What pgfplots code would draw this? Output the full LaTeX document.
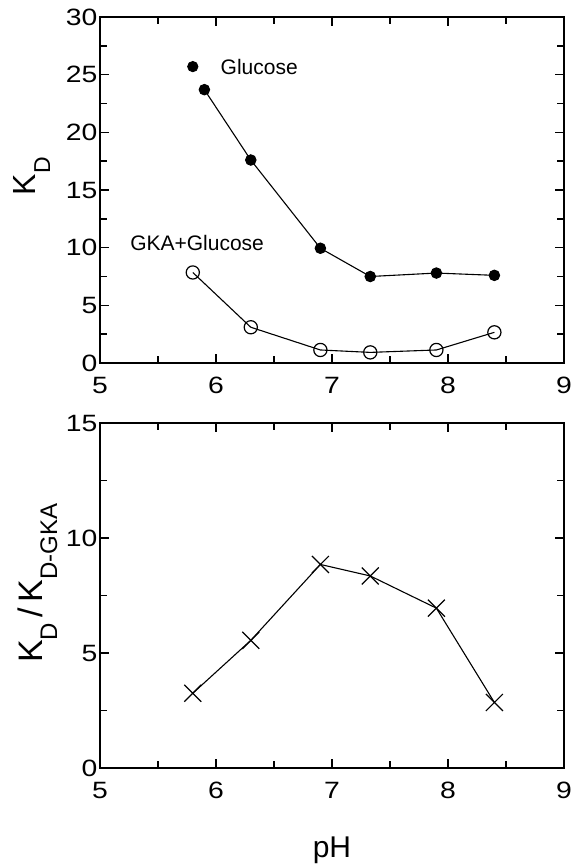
\documentclass[border=0pt]{standalone}
\usepackage{pgfplots}
\pgfplotsset{compat=1.18}
\usepackage{fontspec}
\setmainfont{Liberation Sans}
\newfontfamily\tickfont[FakeStretch=1.2]{Liberation Sans}

\pgfplotsset{
  myax/.style={
    scale only axis, width=232pt,
    xmin=5, xmax=9, xtick={5,6,7,8,9}, minor x tick num=1,
    minor y tick num=1,
    axis line style={line width=0.9pt},
    every tick/.style={line width=0.7pt, black},
    major tick length=4.5pt, minor tick length=3.5pt,
    tick align=inside,
    /pgf/number format/assume math mode=true,
    tick label style={font=\tickfont\fontsize{11.8}{13}\selectfont},
    xticklabel style={yshift=-3.4pt},
    yticklabel style={xshift=2.2pt},
  }
}

\begin{document}
\begin{tikzpicture}
\useasboundingbox (-50pt,-250.5pt) rectangle (236pt,181.5pt);

% top panel
\begin{axis}[myax, at={(0,0)}, height=173pt,
  ymin=0, ymax=30, ytick={0,5,10,15,20,25,30},
  ylabel={K\raisebox{-7.5pt}{\fontsize{11.5}{13}\selectfont D}},
  ylabel style={font=\fontsize{16}{18}\selectfont, at={(axis description cs:-0.14,0.54)}, anchor=base},
]
\addplot[black, line width=0.55pt, mark=*, mark size=2.6pt] coordinates {
 (5.9,23.7) (6.3,17.6) (6.9,9.95) (7.33,7.5) (7.9,7.8) (8.4,7.6)
};
\addplot[black, line width=0.55pt, mark=o, mark size=3.3pt, mark options={fill=white, line width=0.6pt}] coordinates {
 (5.8,7.85) (6.3,3.1) (6.9,1.13) (7.33,0.92) (7.9,1.13) (8.4,2.66)
};
% legend marker
\addplot[black, only marks, mark=*, mark size=2.6pt] coordinates {(5.8,25.7)};
\node[anchor=west, font=\fontsize{10.5}{12}\selectfont] at (axis cs:5.98,25.7) {Glucose};
\node[anchor=west, font=\fontsize{10.5}{12}\selectfont] at (axis cs:5.2,10.4) {GKA+Glucose};
\end{axis}

% bottom panel
\begin{axis}[myax, at={(0,-202.5pt)}, height=172.5pt,
  ymin=0, ymax=15, ytick={0,5,10,15},
  ylabel={K\raisebox{-7.5pt}{\fontsize{12}{14}\selectfont D}\,/\,K\raisebox{-7.5pt}{\fontsize{12}{14}\selectfont D-GKA}},
  ylabel style={font=\fontsize{17}{19}\selectfont, at={(axis description cs:-0.125,0.536)}, anchor=base},
  xlabel={pH},
  xlabel style={font=\fontsize{15}{17}\selectfont, at={(axis description cs:0.5,-0.258)}, anchor=base},
]
\addplot[black, line width=0.55pt, mark=x, mark size=6pt, mark options={line width=0.6pt}] coordinates {
 (5.8,3.25) (6.3,5.55) (6.9,8.85) (7.33,8.35) (7.9,6.95) (8.4,2.85)
};
\end{axis}
\end{tikzpicture}
\end{document}
